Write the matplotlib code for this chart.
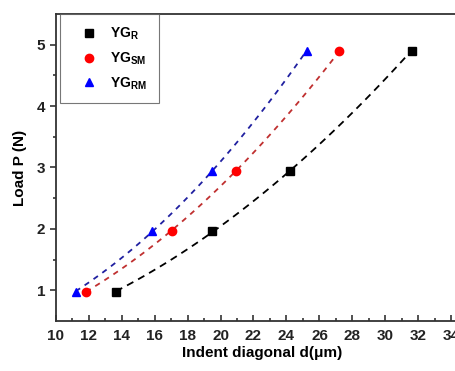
import numpy as np
import matplotlib.pyplot as plt

plt.rcParams['font.family'] = ['Liberation Sans', 'DejaVu Sans']
plt.rcParams['font.weight'] = 'bold'
plt.rcParams['mathtext.fontset'] = 'custom'
plt.rcParams['mathtext.bf'] = 'Liberation Sans:bold'
plt.rcParams['mathtext.rm'] = 'Liberation Sans:bold'

# indentation data: load P (N) vs indent diagonal d (um)
load = [0.98, 1.96, 2.94, 4.9]
d_r = [13.65, 19.5, 24.2, 31.6]
d_sm = [11.84, 17.03, 20.93, 27.17]
d_rm = [11.21, 15.84, 19.47, 25.25]

series = [
    (d_r, r'$\mathbf{YG_{R}}$', 's', 'black', 'black', (0, (4, 3))),
    (d_sm, r'$\mathbf{YG_{SM}}$', 'o', 'red', '#c03030', (0, (3, 3))),
    (d_rm, r'$\mathbf{YG_{RM}}$', '^', 'blue', '#2020a0', (0, (3, 3))),
]

fig = plt.figure(figsize=(4.56, 3.71), dpi=100)
ax = fig.add_axes([0.122, 0.1348, 0.904, 0.8275])

for d, lab, mk, col, lcol, ls in series:
    # power-law fit P = a*d^n (dashed curve)
    n, loga = np.polyfit(np.log(d), np.log(load), 1)
    xx = np.linspace(min(d), max(d), 100)
    ax.plot(xx, np.exp(loga) * xx ** n, color=lcol, linestyle=ls, lw=1.3)
    ax.plot(d, load, linestyle='none', marker=mk, color=col, markersize=6, label=lab)

ax.set_xlim(10, 35)
ax.set_ylim(0.5, 5.5)
ax.set_xticks(np.arange(10, 35, 2))
ax.set_xticks(np.arange(11, 35, 2), minor=True)
ax.set_yticks([1, 2, 3, 4, 5])
ax.set_yticks([1.5, 2.5, 3.5, 4.5], minor=True)
ax.tick_params(axis='x', which='both', direction='in', labelsize=11, pad=6, colors='#222222')
ax.tick_params(axis='y', which='both', direction='out', labelsize=11, colors='#222222')
ax.tick_params(which='major', length=4, width=1.1)
ax.tick_params(which='minor', length=2.5, width=1.1)
for s in ax.spines.values():
    s.set_color('#333333')
    s.set_linewidth(1.3)

ax.set_xlabel('Indent diagonal d(μm)', fontsize=11, fontweight='bold', labelpad=2)
ax.set_ylabel('Load P (N)', fontsize=11, fontweight='bold', labelpad=7)

leg = ax.legend(loc='upper left', bbox_to_anchor=(0.01, 1.0), borderaxespad=0,
                fancybox=False, edgecolor='#555555', fontsize=10, handletextpad=0.3,
                borderpad=0.85, labelspacing=0.6, handlelength=2.5)
leg.get_frame().set_linewidth(0.8)

fig.savefig('out.png', dpi=100)
